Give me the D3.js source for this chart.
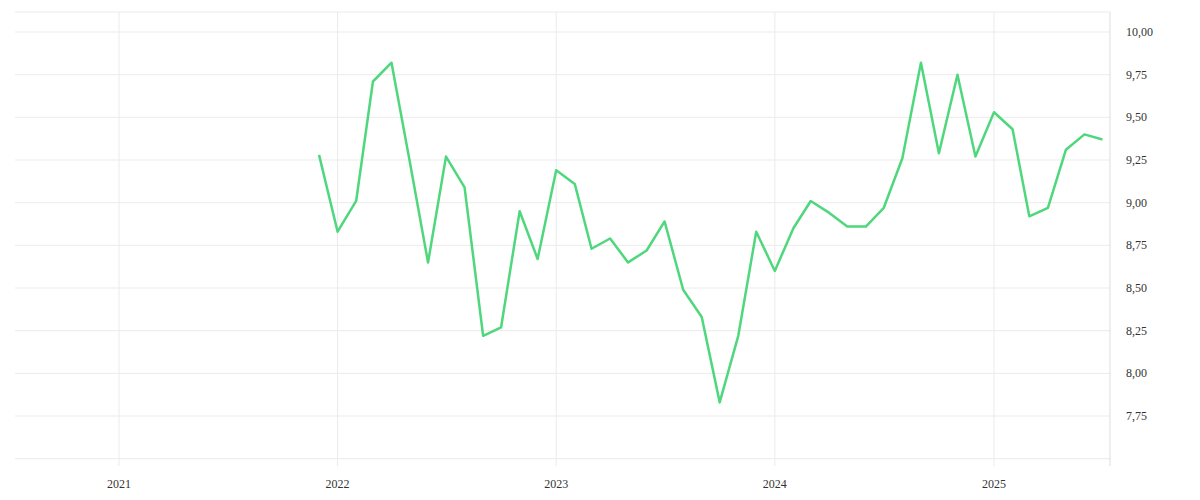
<!DOCTYPE html>
<html><head><meta charset="utf-8">
<script src="https://cdn.jsdelivr.net/npm/d3@7"></script>
<style>body{margin:0;background:#fff}text{font-family:"Liberation Serif",serif;font-size:12px;fill:#333}</style>
</head><body><svg id="c" width="1200" height="500"></svg>
<script>
const startMonth = "2021-12";
const values = [9.28,8.83,9.01,9.71,9.82,9.25,8.65,9.27,9.09,8.22,8.27,8.95,8.67,
9.19,9.11,8.73,8.79,8.65,8.72,8.89,8.49,8.33,7.83,8.22,8.83,
8.60,8.85,9.01,8.94,8.86,8.86,8.97,9.26,9.82,9.29,9.75,9.27,
9.53,9.43,8.92,8.97,9.31,9.40,9.37];
const yTicks = [7.75,8.00,8.25,8.50,8.75,9.00,9.25,9.50,9.75,10.00];
const gridY = [7.5,7.75,8.00,8.25,8.50,8.75,9.00,9.25,9.50,9.75,10.00];
const xTickYears = [2021,2022,2023,2024,2025];

(function(){
const svg = d3.select("#c");
const pL=15,pR=1110,pT=12,pB=458;
const x = d3.scaleTime().domain([new Date(2021,0,1),new Date(2025,0,1)]).range([119,994]);
const y = d3.scaleLinear().domain([7.5,10]).range([458.7,32]);
const [sy,sm] = startMonth.split("-").map(Number);
const data = values.map((v,i)=>({d:new Date(sy,sm-1+i,1),v}));

const g = svg.append("g");
g.selectAll(".hy").data(gridY).join("line").attr("x1",pL).attr("x2",pR)
 .attr("y1",d=>y(d)).attr("y2",d=>y(d)).attr("stroke","#ebebeb");
g.append("line").attr("x1",pL).attr("x2",pR).attr("y1",pT).attr("y2",pT).attr("stroke","#ebebeb");
g.selectAll(".vx").data(xTickYears).join("line").attr("x1",d=>x(new Date(d,0,1))).attr("x2",d=>x(new Date(d,0,1)))
 .attr("y1",pT).attr("y2",pB+8).attr("stroke","#ebebeb");
g.append("line").attr("x1",pR).attr("x2",pR).attr("y1",pT).attr("y2",pB+8).attr("stroke","#ddd");

const fmt = d=>d.toFixed(2).replace(".",",");
g.selectAll(".yl").data(yTicks).join("text").attr("x",1126).attr("y",d=>y(d)+4).text(fmt);
g.selectAll(".xl").data(xTickYears).join("text").attr("x",d=>x(new Date(d,0,1))).attr("y",488)
 .attr("text-anchor","middle").text(d=>d);

svg.append("path").datum(data).attr("fill","none").attr("stroke","#4fd77d").attr("stroke-width",2.5)
 .attr("stroke-linejoin","round")
 .attr("d",d3.line().x(d=>x(d.d)).y(d=>y(d.v)));
})();
</script></body></html>
